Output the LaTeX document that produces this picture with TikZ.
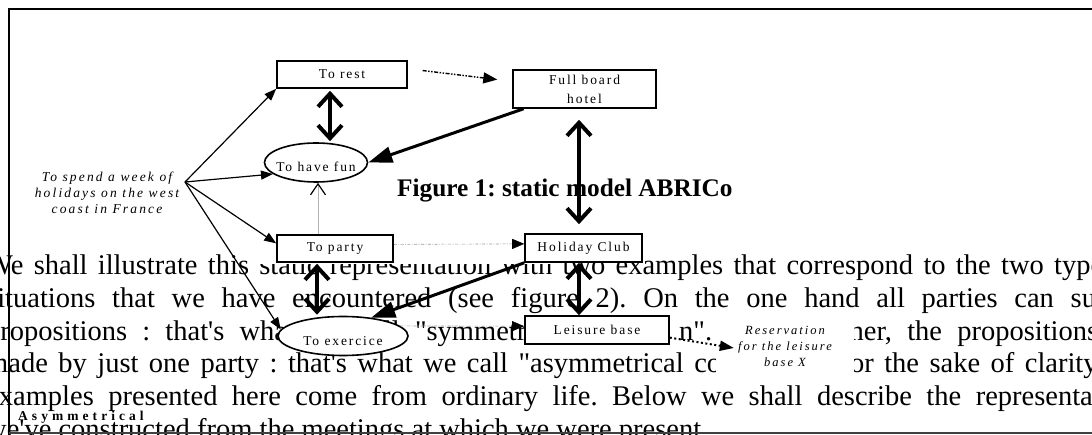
\documentclass[tikz,border=0pt]{standalone}
\usepackage{fontspec}
\setmainfont{Liberation Serif}[Ligatures=TeXOff]
\newfontfamily\lab[LetterSpace=14,Ligatures=TeXOff]{Liberation Serif}
\newfontfamily\labi[LetterSpace=16,Ligatures=TeXOff]{Liberation Serif}
\newfontfamily\labb[LetterSpace=30,Ligatures=TeXOff]{Liberation Serif}
\usetikzlibrary{arrows.meta,shapes.geometric}
\begin{document}
\frenchspacing
\begin{tikzpicture}[x=1pt,y=-1pt,
 bodyline/.style={anchor=base west,inner sep=0pt,font=\frenchspacing\fontsize{28.5}{32.7}\selectfont},
 boxn/.style={draw,line width=1.6pt,fill=white,inner sep=0pt,align=center,font=\lab\fontsize{13.5}{19}\selectfont},
 elln/.style={ellipse,draw,line width=1.6pt,fill=white,inner sep=0pt},
 elltext/.style={inner sep=0pt,font=\lab\fontsize{13.5}{15}\selectfont},
 thinarr/.style={line width=1.2pt,-{Triangle[length=12pt,width=9pt]}},
 thickarr/.style={line width=3pt,-{Triangle[length=24pt,width=16pt]}},
 dblarr/.style={line width=4pt,{Straight Barb[length=13pt,width=24pt]}-{Straight Barb[length=13pt,width=24pt]}},
 ddarr/.style={gray!80,line width=0.6pt,dash pattern=on 3pt off 1.5pt on 0.8pt off 1.5pt,-{Triangle[length=12pt,width=10pt,black]}},
 ddotarr/.style={line width=1.4pt,dash pattern=on 4pt off 1.5pt on 1.5pt off 1.5pt on 1.5pt off 1.5pt,-{Triangle[length=14pt,width=11pt]}},
 dotarr/.style={line width=2pt,dash pattern=on 2pt off 2.5pt,-{Triangle[length=14pt,width=10pt]}},
 openarr/.style={gray!60,line width=0.6pt,-{Straight Barb[length=11pt,width=15pt,black,line width=1.2pt]}}
]
\useasboundingbox (0,0) rectangle (1092,435);
\clip (0,0) rectangle (1092,435);
% body text
\node[bodyline] (l1) at (-14,274.5) {\makebox[1162pt][s]{We shall illustrate this static representation with two examples that correspond to the two types of}};
\node[bodyline] (l2) at (-14,307.4) {\makebox[1162pt][s]{situations that we have encountered (see figure 2). On the one hand all parties can submit}};
\node[bodyline] (l3) at (-14,340.2) {\makebox[1162pt][s]{propositions : that's what \phantom{we} call "symmetrical \phantom{co-desig}n". \phantom{On} \phantom{the} \phantom{ot}her, the propositions are}};
\node[bodyline] (l4) at (-14,373.0) {\makebox[1162pt][s]{made by just one party : that's what we call "asymmetrical co\phantom{-design".} \phantom{F}or the sake of clarity, the}};
\node[bodyline] (l5) at (-14,405.8) {\makebox[1162pt][s]{examples presented here come from ordinary life. Below we shall describe the representations}};
\node[bodyline] (l6) at (-14,438.6) {we've constructed from the meetings at which we were present.};
\fill[white] (255,222) rectangle (560,264.5);
% caption
\node[anchor=base west,inner sep=0pt,font=\bfseries\fontsize{25.3}{30}\selectfont] (cap) at (397,197) {Figure 1: static model ABRICo};
% nodes
\node[boxn,minimum width=130pt,minimum height=27pt] (rest) at (342,74.5) {To rest};
\node[boxn,minimum width=143pt,minimum height=38pt] (fb) at (584.5,89) {Full board\\hotel};
\node[boxn,minimum width=116pt,minimum height=27pt] (party) at (335,248.5) {To party};
\node[boxn,minimum width=117pt,minimum height=28pt] (hc) at (583.5,248) {Holiday Club};
\node[boxn,minimum width=144pt,minimum height=28pt] (lb) at (597,330) {Leisure base};
\node[elln,minimum width=103pt,minimum height=39pt] (fun) at (316,162.5) {};
\node[elltext] (funt) at ([yshift=-4.5pt]fun.center) {To have fun};
\node[elln,minimum width=130pt,minimum height=39pt] (exer) at (343,336) {};
\node[elltext] (exert) at ([yshift=-5pt]exer.center) {To exercice};
\node[fill=white,inner sep=0pt,minimum width=138pt,minimum height=58pt,align=center,font=\labi\itshape\fontsize{12.5}{16}\selectfont] (res) at (785,346.5) {Reservation\\for the leisure\\base X};
\node[inner sep=0pt,align=center,font=\labi\itshape\fontsize{13.5}{16}\selectfont] (spend) at (107,193) {To spend a week of\\holidays on the west\\coast in France};
\coordinate (sp) at (185,182);
% connectors
\draw[thinarr] (sp) -- (rest.south west);
\draw[thinarr] (sp) -- (fun.195);
\draw[thinarr] (sp) -- (party.175);
\draw[thinarr] (sp) -- (exer.174);
\draw[openarr] ([xshift=-17pt]party.north) -- ([xshift=-17pt]party.north |- fun.south);
\draw[ddarr] (party.4) -- (hc.176);
\draw[ddarr] (exer.10) -- (lb.177);
\draw[ddotarr,shorten <=15pt,shorten >=15pt] (rest.5) -- (fb.174);
\draw[dotarr] (lb.-6) -- ([xshift=18pt,yshift=-1.5pt]res.west);
\draw[thickarr] (fb.198) -- (fun.east);
\draw[thickarr] (hc.south west) -- (exer.33);
\draw[dblarr,shorten <=2pt,shorten >=1pt] ([xshift=-12pt]rest.south) -- ([xshift=-12pt]rest.south |- fun.north);
\draw[dblarr,shorten <=11pt,shorten >=9pt] ([xshift=-5.5pt]fb.south) -- ([xshift=-5.5pt]fb.south |- hc.north);
\draw[dblarr,shorten <=1pt,shorten >=1pt] ([xshift=-18pt]party.south) -- ([xshift=-18pt]party.south |- exer.north);
\draw[dblarr] ([xshift=-4.5pt]hc.south) -- ([xshift=-4.5pt]hc.south |- lb.north);
\node[anchor=base west,inner sep=0pt,font=\labb\bfseries\fontsize{13.5}{15}\selectfont] (asym) at (18,420.5) {Asymmetrical};
% frame
\draw[line width=2pt] (1095,9.5) -- (8.5,9.5) -- (8.5,440);
\draw[line width=1.5pt,black!75] (8.5,433) -- (1095,433);
\end{tikzpicture}
\end{document}
